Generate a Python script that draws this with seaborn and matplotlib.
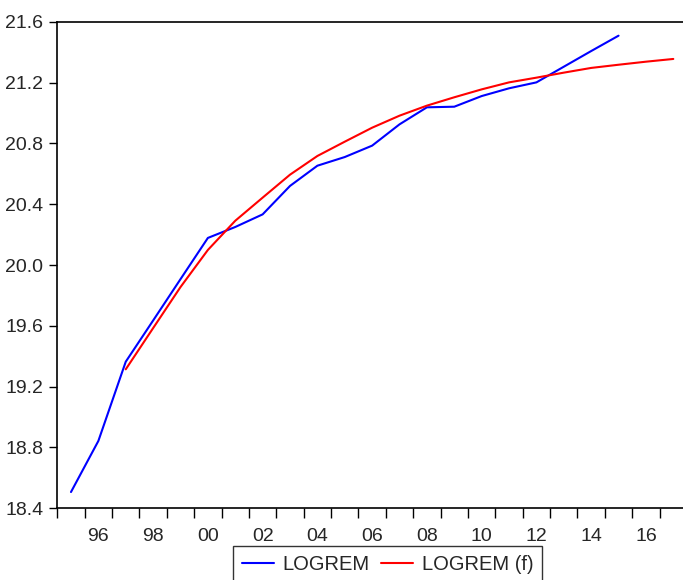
import numpy as np
import pandas as pd
import matplotlib
matplotlib.use("Agg")
import matplotlib.pyplot as plt
from matplotlib.ticker import FixedLocator, NullFormatter, FixedFormatter
from matplotlib.lines import Line2D
import seaborn as sns

# ---- data ----
years_actual = [1995, 1996, 1997, 1998, 1999, 2000, 2001, 2002, 2003, 2004, 2005,
                2006, 2007, 2008, 2009, 2010, 2011, 2012, 2013, 2014, 2015]
logrem = [18.507, 18.843, 19.364, 19.635, 19.907, 20.178, 20.25, 20.333, 20.52,
          20.653, 20.71, 20.785, 20.925, 21.037, 21.041, 21.111, 21.162, 21.201,
          21.304, 21.407, 21.508]

years_fc = [1997, 1998, 1999, 2000, 2001, 2002, 2003, 2004, 2005, 2006, 2007,
            2008, 2009, 2010, 2011, 2012, 2013, 2014, 2015, 2016, 2017]
logrem_f = [19.314, 19.585, 19.855, 20.099, 20.291, 20.443, 20.594, 20.717,
            20.811, 20.903, 20.982, 21.048, 21.103, 21.155, 21.201, 21.232,
            21.265, 21.296, 21.317, 21.337, 21.355]

label_years = [1996, 1998, 2000, 2002, 2004, 2006, 2008, 2010, 2012, 2014, 2016]
label_texts = ["96", "98", "00", "02", "04", "06", "08", "10", "12", "14", "16"]
y_ticks = [18.4, 18.8, 19.2, 19.6, 20.0, 20.4, 20.8, 21.2, 21.6]

series_names = ["LOGREM", "LOGREM (f)"]
colors = ["#0000FF", "#FF0000"]

df = pd.concat([
    pd.DataFrame({"year": years_actual, "value": logrem, "series": series_names[0]}),
    pd.DataFrame({"year": years_fc, "value": logrem_f, "series": series_names[1]}),
])

sns.set_style("ticks")
plt.rcParams["font.family"] = ["Liberation Sans", "DejaVu Sans"]

fig = plt.figure(figsize=(6.83, 5.80), dpi=100)
ax = fig.add_axes([57.3 / 683, 1 - 508.3 / 580, (687 - 57.3) / 683, (508.3 - 21.7) / 580])

sns.lineplot(data=df, x="year", y="value", hue="series", palette=colors,
             hue_order=series_names, linewidth=1.5, ax=ax, legend=False)

ax.set_xlim(1994.5, 2017.5)
ax.set_ylim(18.4, 21.6)
ax.set_xlabel("")
ax.set_ylabel("")

# x: tick marks at year boundaries, labels centred on even years
ax.xaxis.set_major_locator(FixedLocator(np.arange(1994.5, 2018.0, 1.0)))
ax.xaxis.set_major_formatter(NullFormatter())
ax.xaxis.set_minor_locator(FixedLocator(label_years))
ax.xaxis.set_minor_formatter(FixedFormatter(label_texts))
ax.tick_params(axis="x", which="major", direction="out", length=7, width=1.0, color="black")
ax.tick_params(axis="x", which="minor", length=0, pad=14, labelsize=14)

ax.set_yticks(y_ticks)
ax.set_yticklabels([f"{v:.1f}" for v in y_ticks])
ax.tick_params(axis="y", direction="out", length=6, width=1.0, pad=4, labelsize=14, color="black")

for s in ["left", "bottom", "top"]:
    ax.spines[s].set_visible(True)
    ax.spines[s].set_color("black")
    ax.spines[s].set_linewidth(1.2)
ax.spines["right"].set_visible(False)

# legend
handles = [Line2D([0], [0], color=c, lw=1.5) for c in colors]
leg = fig.legend(handles, series_names, loc="upper left",
                 bbox_to_anchor=(232.7 / 683, 1 - 545.7 / 580),
                 ncol=2, frameon=True, fancybox=False, fontsize=14.5,
                 handlelength=1.6, handletextpad=0.4, columnspacing=0.6,
                 borderpad=0.45, borderaxespad=0.0, edgecolor="black")
leg.get_frame().set_linewidth(1.0)

fig.savefig("out.png", dpi=100)
